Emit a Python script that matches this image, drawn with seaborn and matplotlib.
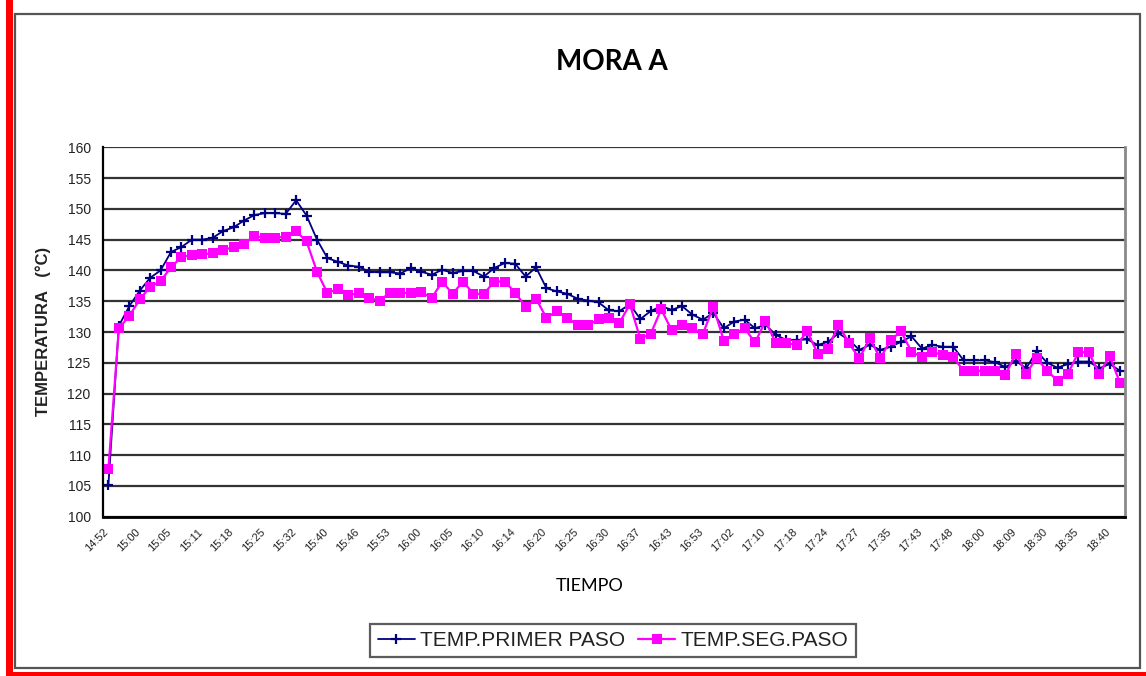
import numpy as np
import matplotlib
matplotlib.use("Agg")
import matplotlib.pyplot as plt
import matplotlib.transforms as mtransforms
from matplotlib.patches import Rectangle
import seaborn as sns

# Readings, one per sample; tick labels every third sample
time_labels = [
    "14:52", "15:00", "15:05", "15:11", "15:18", "15:25", "15:32", "15:40",
    "15:46", "15:53", "16:00", "16:05", "16:10", "16:14", "16:20", "16:25",
    "16:30", "16:37", "16:43", "16:53", "17:02", "17:10", "17:18", "17:24",
    "17:27", "17:35", "17:43", "17:48", "18:00", "18:09", "18:30", "18:35",
    "18:40",
]

temp_primer_paso = [
    105.2, 131.0, 134.2, 136.7, 138.8, 140.0, 143.0, 143.8, 145.0, 145.0,
    145.3, 146.4, 147.0, 148.1, 149.0, 149.3, 149.3, 149.2, 151.4, 148.9,
    145.0, 142.0, 141.4, 140.8, 140.6, 139.8, 139.7, 139.7, 139.5, 140.4,
    139.8, 139.3, 140.1, 139.6, 139.9, 139.9, 139.0, 140.4, 141.2, 141.1,
    139.0, 140.5, 137.1, 136.6, 136.2, 135.4, 135.1, 134.8, 133.5, 133.4,
    134.5, 132.1, 133.4, 134.2, 133.6, 134.2, 132.8, 132.0, 133.1, 130.6,
    131.7, 132.0, 130.6, 131.2, 129.5, 128.7, 128.7, 128.8, 127.9, 128.4,
    129.8, 128.7, 127.1, 127.9, 127.1, 127.6, 128.4, 129.3, 127.3, 127.9,
    127.6, 127.6, 125.4, 125.4, 125.4, 125.1, 124.3, 125.3, 124.1, 126.9,
    125.0, 124.2, 124.8, 125.2, 125.2, 124.1, 124.8, 123.7,
]

temp_seg_paso = [
    107.8, 130.6, 132.6, 135.3, 137.3, 138.3, 140.5, 142.2, 142.5, 142.6,
    142.8, 143.3, 143.8, 144.3, 145.6, 145.3, 145.3, 145.5, 146.4, 144.7,
    139.8, 136.3, 137.0, 136.0, 136.3, 135.5, 135.1, 136.4, 136.4, 136.3,
    136.5, 135.5, 138.2, 136.2, 138.2, 136.2, 136.2, 138.2, 138.2, 136.4,
    134.1, 135.4, 132.3, 133.4, 132.3, 131.1, 131.1, 132.1, 132.3, 131.5,
    134.5, 128.9, 129.7, 133.7, 130.3, 131.1, 130.6, 129.7, 134.1, 128.6,
    129.7, 130.6, 128.3, 131.8, 128.2, 128.2, 127.9, 130.1, 126.5, 127.3,
    131.2, 128.2, 125.7, 129.0, 125.7, 128.7, 130.1, 126.8, 125.9, 126.8,
    126.2, 125.9, 123.7, 123.7, 123.7, 123.7, 123.0, 126.5, 123.2, 125.8,
    123.7, 122.1, 123.2, 126.7, 126.7, 123.2, 126.1, 121.7,
]

sns.set_style("white")
plt.rcParams["font.family"] = ["Liberation Sans", "DejaVu Sans"]

W, H = 1146, 676
fig = plt.figure(figsize=(W / 100, H / 100), dpi=100)
fig.patch.set_facecolor("white")

# plot area in pixel units
x0, x1, y_top, y_bot = 103.2, 1125.3, 147.3, 516.7
ax = fig.add_axes([x0 / W, 1 - y_bot / H, (x1 - x0) / W, (y_bot - y_top) / H])

n = len(temp_primer_paso)
idx = np.arange(n)

sns.lineplot(x=idx, y=temp_primer_paso, ax=ax, color="#000080", linewidth=1.3,
             marker="+", markersize=7, markeredgewidth=1.6,
             markeredgecolor="#000080", label="TEMP.PRIMER PASO", sort=False)
sns.lineplot(x=idx, y=temp_seg_paso, ax=ax, color="#FF00FF", linewidth=1.6,
             marker="s", markersize=7, markeredgewidth=0,
             markerfacecolor="#FF00FF", label="TEMP.SEG.PASO", sort=False)

ax.set_xlim(-0.5, n - 0.5)
ax.set_ylim(100, 160)
ax.set_yticks(np.arange(100, 161, 5))
ax.grid(axis="y", color="#333333", linewidth=1.6)
ax.grid(axis="x", visible=False)
ax.set_axisbelow(True)

ax.spines["top"].set_visible(False)
ax.spines["left"].set_color("black")
ax.spines["left"].set_linewidth(1.6)
ax.spines["bottom"].set_color("black")
ax.spines["bottom"].set_linewidth(2.0)
ax.spines["right"].set_color("#8a8a8a")
ax.spines["right"].set_linewidth(2.0)

ax.tick_params(axis="y", which="major", direction="out", length=5, width=1.4,
               color="black", labelsize=10, pad=4, labelcolor="#222222")
ax.set_xticks(idx[::3])
ax.set_xticklabels(time_labels, rotation=45, ha="right", va="center",
                   rotation_mode="anchor", fontsize=8, color="#222222")
ax.tick_params(axis="x", which="major", length=0, pad=10)
ax.set_xticks(np.arange(-0.5, n, 1), minor=True)
ax.tick_params(axis="x", which="minor", direction="out", length=4, width=1.4,
               color="black")
shift = mtransforms.ScaledTranslation(-1 / 72, 0, fig.dpi_scale_trans)
for lab in ax.get_xticklabels():
    lab.set_transform(lab.get_transform() + shift)

ax.set_xlabel("")
ax.set_ylabel("")
handles, labels = ax.get_legend_handles_labels()
ax.get_legend().remove()

fig.text(43 / W, 1 - 331 / H, "TEMPERATURA   (°C)", rotation=90, ha="center",
         va="center", fontsize=12, fontweight="bold", color="#222222")
fig.text(612 / W, 1 - 62 / H, "MORA A", ha="center", va="center",
         fontsize=20, fontweight="bold", family="Lato", color="black")
fig.text(590 / W, 1 - 586 / H, "TIEMPO", ha="center", va="center",
         fontsize=13, family="Lato", color="black")

leg = fig.legend(handles, labels, loc="center",
                 bbox_to_anchor=(613 / W, 1 - 640.5 / H), ncol=2,
                 frameon=True, fancybox=False, shadow=False, fontsize=15,
                 handlelength=1.8, handletextpad=0.25, columnspacing=0.6,
                 borderpad=0.35, borderaxespad=0)
leg.get_frame().set_edgecolor("#333333")
leg.get_frame().set_linewidth(1.6)
for t in leg.get_texts():
    t.set_color("#222222")

# chart frame and surrounding red border
fig.add_artist(Rectangle((14.5 / W, 1 - 668 / H), (1140 - 14.5) / W, (668 - 14) / H,
                         transform=fig.transFigure, fill=False,
                         edgecolor="#555555", linewidth=1.6))
fig.add_artist(Rectangle((6 / W, 0), 7 / W, 1, transform=fig.transFigure,
                         facecolor="#ff0000", edgecolor="none"))
fig.add_artist(Rectangle((6 / W, 0), 1, 4.5 / H, transform=fig.transFigure,
                         facecolor="#ff0000", edgecolor="none"))

fig.savefig("out.png", dpi=100, facecolor="white")
